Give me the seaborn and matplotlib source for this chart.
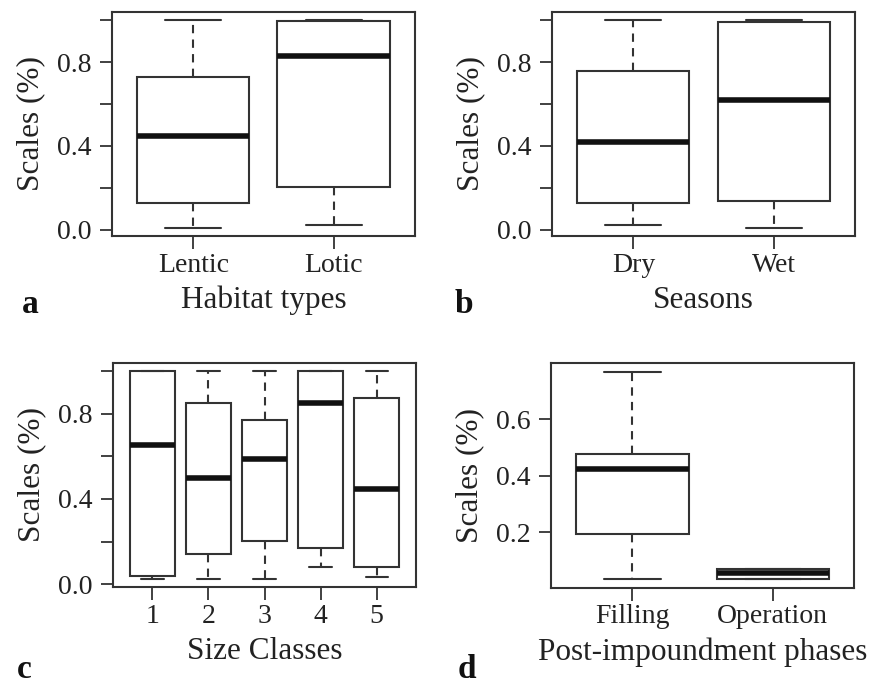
import numpy as np
import matplotlib
matplotlib.use("Agg")
import matplotlib.pyplot as plt
import pandas as pd
import seaborn as sns

# five-number summaries (min, q1, median, q3, max)
habitat_groups = ["Lentic", "Lotic"]
habitat_stats = [[0.010, 0.130, 0.450, 0.730, 1.000],
                 [0.025, 0.206, 0.830, 0.998, 1.000]]

season_groups = ["Dry", "Wet"]
season_stats = [[0.025, 0.130, 0.417, 0.760, 1.000],
                [0.010, 0.137, 0.618, 0.993, 1.000]]

size_groups = ["1", "2", "3", "4", "5"]
size_stats = [[0.025, 0.038, 0.652, 1.000, 1.000],
              [0.025, 0.141, 0.497, 0.850, 1.000],
              [0.025, 0.201, 0.586, 0.772, 1.000],
              [0.082, 0.170, 0.852, 1.000, 1.000],
              [0.032, 0.083, 0.445, 0.872, 1.000]]

phase_groups = ["Filling", "Operation"]
phase_stats = [[0.033, 0.195, 0.422, 0.478, 0.768],
               [0.033, 0.033, 0.054, 0.070, 0.070]]

sns.set_style("white")
plt.rcParams["font.family"] = ["Liberation Serif", "DejaVu Serif"]

INK = "#333333"


def to_long(groups, stats):
    rows = []
    for g, s in zip(groups, stats):
        for v in s:
            rows.append({"group": g, "value": v})
    return pd.DataFrame(rows)


def panel(ax, groups, stats, xlabel, yticks, yticklabels):
    df = to_long(groups, stats)
    sns.boxplot(data=df, x="group", y="value", order=groups, ax=ax,
                whis=(0, 100), width=0.8, color="white", fill=True,
                linecolor=INK, linewidth=1.5, saturation=1,
                medianprops=dict(color="#111111", linewidth=4.0),
                whiskerprops=dict(linestyle=(0, (4, 3)), color=INK),
                capprops=dict(linestyle="-", color=INK))
    n = len(groups)
    ax.set_xlim(-0.5 - 0.04 * n, n - 0.5 + 0.04 * n)
    vals = np.array(stats)
    lo, hi = vals.min(), vals.max()
    ax.set_ylim(lo - 0.04 * (hi - lo), hi + 0.04 * (hi - lo))
    ax.set_yticks(yticks)
    ax.set_yticklabels(yticklabels)
    ax.set_xlabel(xlabel, fontsize=22.5, color="#222222", labelpad=6)
    ax.set_ylabel("Scales (%)", fontsize=22.5, color="#222222", labelpad=8)
    ax.tick_params(axis="both", direction="out", length=9, width=1.3,
                   color=INK, labelsize=20, labelcolor="#222222",
                   bottom=True, left=True)
    ax.tick_params(axis="x", pad=3)
    ax.tick_params(axis="y", pad=6)
    for sp in ax.spines.values():
        sp.set_color(INK)
        sp.set_linewidth(1.5)
        sp.set_visible(True)


fig = plt.figure(figsize=(8.81, 6.89), dpi=100)
ax_a = fig.add_axes([0.1271, 0.6575, 0.3439, 0.3251])
ax_b = fig.add_axes([0.6266, 0.6575, 0.3439, 0.3251])
ax_c = fig.add_axes([0.1283, 0.1476, 0.3439, 0.3260])
ax_d = fig.add_axes([0.6254, 0.1470, 0.3443, 0.3257])

full_ticks = [0.0, 0.2, 0.4, 0.6, 0.8, 1.0]
full_labels = ["0.0", "", "0.4", "", "0.8", ""]

panel(ax_a, habitat_groups, habitat_stats, "Habitat types", full_ticks, full_labels)
panel(ax_b, season_groups, season_stats, "Seasons", full_ticks, full_labels)
panel(ax_c, size_groups, size_stats, "Size Classes", full_ticks, full_labels)
panel(ax_d, phase_groups, phase_stats, "Post-impoundment phases",
      [0.2, 0.4, 0.6], ["0.2", "0.4", "0.6"])

for lab, x, y in [("a", 0.025, 0.546), ("b", 0.516, 0.546),
                  ("c", 0.019, 0.016), ("d", 0.519, 0.016)]:
    fig.text(x, y, lab, fontsize=24, fontweight="bold", color="#111111",
             va="baseline", ha="left")

fig.savefig("out.png", dpi=100)
